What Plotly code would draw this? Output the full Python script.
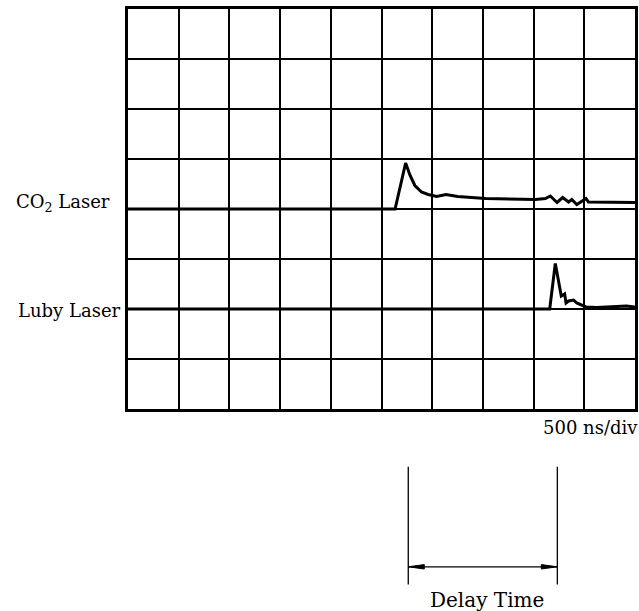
import plotly.graph_objects as go

# Oscilloscope sweep: 500 ns per division, 10 horizontal x 8 vertical divisions
time_div_ns = 500
n_xdiv = 10
n_ydiv = 8

# CO2 laser trace (time in ns, level in divisions)
co2_t = [0, 2634, 2738, 2780, 2829, 2894, 2960, 3044, 3136, 3253, 3527, 4016,
         4116, 4165, 4231, 4287, 4345, 4377, 4426, 4517, 4541, 5000]
co2_v = [4.00, 4.00, 4.92, 4.68, 4.47, 4.34, 4.29, 4.25, 4.29, 4.25, 4.21, 4.19,
         4.21, 4.26, 4.13, 4.23, 4.14, 4.19, 4.09, 4.21, 4.14, 4.13]

# Ruby ("Luby") laser trace
luby_t = [0, 4159, 4214, 4273, 4306, 4320, 4345, 4394, 4426, 4460, 4517, 4622, 4915, 5000]
luby_v = [2.00, 2.00, 2.91, 2.26, 2.30, 2.12, 2.16, 2.18, 2.12, 2.09, 2.04, 2.03, 2.06, 2.04]

# Delay-time bracket end points (ns)
delay_start = 2764
delay_end = 4234

SERIF = "DejaVu Serif"

fig = go.Figure()
fig.add_trace(go.Scatter(x=co2_t, y=co2_v, mode="lines",
                         line=dict(color="black", width=3), showlegend=False))
fig.add_trace(go.Scatter(x=luby_t, y=luby_v, mode="lines",
                         line=dict(color="black", width=3), showlegend=False,
                         cliponaxis=False))

axis_common = dict(showgrid=True, gridcolor="black", gridwidth=2,
                   showline=True, linecolor="black", linewidth=2.5, mirror=True,
                   zeroline=False, showticklabels=False, ticks="")
fig.update_xaxes(range=[0, n_xdiv * time_div_ns], dtick=time_div_ns, tick0=0,
                 **axis_common)
fig.update_yaxes(range=[0, n_ydiv], dtick=1, tick0=0, **axis_common)

# Trace labels on the left
fig.add_annotation(x=-0.032, y=4.13, xref="paper", yref="y", xanchor="right",
                   yanchor="middle", showarrow=False,
                   text="CO<sub>2</sub> Laser",
                   font=dict(family=SERIF, size=18, color="black"))
fig.add_annotation(x=-0.01, y=1.98, xref="paper", yref="y", xanchor="right",
                   yanchor="middle", showarrow=False, text="Luby Laser",
                   font=dict(family=SERIF, size=18, color="black"))

# Sweep speed
fig.add_annotation(x=0.815, y=-0.046, xref="paper", yref="paper", xanchor="left",
                   yanchor="middle", showarrow=False, text="500 ns/div",
                   font=dict(family=SERIF, size=18, color="black"))

# Delay-time bracket below the screen
arrow_y = -0.3945
for xv in (delay_start, delay_end):
    fig.add_shape(type="line", xref="x", yref="paper", x0=xv, x1=xv,
                  y0=-0.1445, y1=-0.439, line=dict(color="black", width=1.3))
fig.add_shape(type="line", xref="x", yref="paper", x0=delay_start, x1=delay_end,
              y0=arrow_y, y1=arrow_y, line=dict(color="black", width=1.3))
# Arrowheads: thin filled triangles pointing at each bracket end
for xv, path in ((delay_start, "M0,0 L16,2.2 L16,-2.2 Z"),
                 (delay_end, "M0,0 L-16,2.2 L-16,-2.2 Z")):
    fig.add_shape(type="path", xref="x", yref="paper",
                  xsizemode="pixel", ysizemode="pixel",
                  xanchor=xv, yanchor=arrow_y, path=path,
                  fillcolor="black", line=dict(color="black", width=1))
fig.add_annotation(x=(delay_start + delay_end) / 2, y=-0.477, xref="x",
                   yref="paper", xanchor="center", yanchor="middle", xshift=4,
                   showarrow=False, text="Delay Time",
                   font=dict(family=SERIF, size=20, color="black"))

fig.update_layout(width=639, height=611,
                  margin=dict(l=128, r=1, t=9, b=202, pad=0),
                  paper_bgcolor="white", plot_bgcolor="white")

fig.write_html("out.html")
